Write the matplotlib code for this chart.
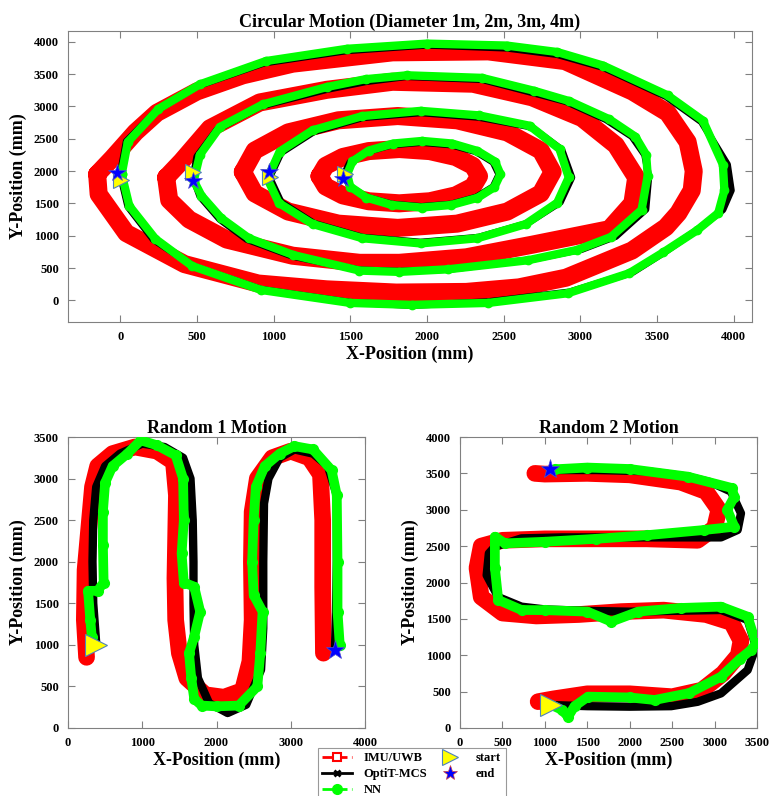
import matplotlib
matplotlib.use("Agg")
import matplotlib.pyplot as plt
from matplotlib.lines import Line2D

plt.rcParams['font.family'] = ['Liberation Serif', 'DejaVu Serif']
plt.rcParams['font.weight'] = 'bold'

# ---------------- Circular motion data (mm) ----------------
c1_opti_x = [0, 40, 240, 500, 940, 1480, 2000, 2520, 2850, 3150, 3560, 3790, 3960, 3985, 3930, 3780, 3560, 3340, 2930, 2400, 1900, 1500, 920, 480, 215, 50, 0]
c1_opti_y = [1950, 2460, 2940, 3310, 3670, 3860, 3945, 3900, 3800, 3600, 3150, 2760, 2100, 1700, 1400, 1120, 760, 430, 130, -20, -80, -30, 170, 525, 942, 1450, 1950]
c1_imu_x = [-150, -50, 100, 240, 500, 800, 1125, 1776, 2400, 2900, 3340, 3570, 3700, 3740, 3727, 3640, 3558, 3337, 2907, 2600, 2257, 1800, 1346, 900, 420, 40, -140, -150]
c1_imu_y = [1950, 2200, 2600, 2900, 3230, 3480, 3660, 3835, 3850, 3700, 3230, 2900, 2450, 2000, 1700, 1350, 1130, 770, 350, 200, 130, 120, 170, 260, 560, 1040, 1640, 1950]
c1_nn_x = [10, 50, 250, 520, 950, 1480, 2000, 2520, 2850, 3150, 3570, 3800, 3930, 3940, 3900, 3760, 3540, 3320, 2920, 2400, 1900, 1500, 920, 470, 230, 60, 10]
c1_nn_y = [1950, 2450, 2960, 3340, 3700, 3890, 3970, 3940, 3840, 3630, 3170, 2780, 2100, 1700, 1350, 1080, 740, 420, 110, -40, -70, -40, 160, 530, 950, 1460, 1950]

c2_opti_x = [475, 500, 631, 910, 1346, 1600, 1866, 2361, 2686, 2907, 3167, 3337, 3420, 3447, 3428, 3232, 3011, 2686, 2146, 1821, 1561, 1125, 826, 650, 520, 475]
c2_opti_y = [1900, 2224, 2641, 2996, 3259, 3380, 3459, 3413, 3212, 3073, 2795, 2533, 2250, 1915, 1405, 988, 788, 633, 479, 450, 470, 680, 942, 1251, 1606, 1900]
c2_imu_x = [300, 400, 585, 910, 1346, 1776, 2300, 2686, 3011, 3232, 3365, 3340, 3190, 2686, 2257, 1821, 1561, 1125, 695, 450, 320, 300]
c2_imu_y = [1900, 2150, 2660, 3060, 3255, 3380, 3350, 3140, 2820, 2400, 1900, 1500, 1100, 860, 665, 580, 580, 690, 940, 1250, 1550, 1900]
c2_nn_x = [480, 520, 650, 930, 1350, 1600, 1870, 2360, 2700, 2930, 3190, 3360, 3430, 3440, 3400, 3200, 2980, 2660, 2140, 1820, 1560, 1130, 840, 660, 530, 480]
c2_nn_y = [1850, 2250, 2680, 3030, 3300, 3420, 3480, 3440, 3240, 3080, 2800, 2530, 2250, 1930, 1400, 980, 780, 620, 480, 440, 460, 700, 960, 1270, 1620, 1850]

c3_opti_x = [975, 1050, 1263, 1583, 1960, 2337, 2680, 2880, 2945, 2870, 2657, 2337, 1960, 1583, 1263, 1050, 975]
c3_opti_y = [1900, 2283, 2607, 2824, 2900, 2830, 2680, 2330, 1900, 1517, 1193, 976, 900, 976, 1193, 1517, 1900]
c3_imu_x = [800, 877, 1096, 1423, 1810, 2197, 2524, 2743, 2820, 2743, 2524, 2197, 1810, 1423, 1096, 877, 800]
c3_imu_y = [1985, 2316, 2597, 2784, 2850, 2784, 2597, 2316, 1985, 1654, 1373, 1186, 1120, 1186, 1373, 1654, 1985]
c3_nn_x = [960, 1040, 1255, 1580, 1960, 2340, 2670, 2865, 2925, 2850, 2645, 2330, 1960, 1580, 1255, 1035, 960]
c3_nn_y = [1880, 2300, 2630, 2850, 2930, 2860, 2700, 2340, 1900, 1510, 1180, 960, 880, 960, 1180, 1505, 1880]

c4_opti_x = [1460, 1498, 1608, 1772, 1965, 2158, 2322, 2432, 2470, 2432, 2322, 2158, 1965, 1772, 1608, 1498, 1460]
c4_opti_y = [1946, 2135, 2296, 2403, 2441, 2403, 2296, 2135, 1946, 1757, 1596, 1489, 1451, 1489, 1596, 1757, 1946]
c4_imu_x = [1300, 1340, 1452, 1621, 1820, 2019, 2188, 2300, 2340, 2300, 2188, 2019, 1820, 1621, 1452, 1340, 1300]
c4_imu_y = [1920, 2080, 2217, 2308, 2340, 2308, 2217, 2080, 1920, 1760, 1623, 1532, 1500, 1532, 1623, 1760, 1920]
c4_nn_x = [1480, 1515, 1620, 1780, 1970, 2165, 2330, 2445, 2480, 2440, 2330, 2160, 1965, 1770, 1605, 1500, 1480]
c4_nn_y = [1950, 2150, 2315, 2425, 2465, 2425, 2310, 2145, 1950, 1750, 1585, 1475, 1435, 1475, 1590, 1760, 1950]

circ_start_x = [7, 475, 976, 1463]
circ_start_y = [1860, 1977, 1900, 1946]
circ_end_x = [-20, 475, 969, 1450]
circ_end_y = [1970, 1838, 1977, 1870]

# ---------------- Random 1 data (mm) ----------------
r1_opti_x = [382, 340, 330, 340, 380, 500, 700, 1000, 1300, 1550, 1650, 1680, 1690, 1690, 1700, 1750, 1900, 2150, 2400, 2600, 2630, 2630, 2640, 2700, 2850, 3050, 3300, 3500, 3620, 3620, 3610, 3595]
r1_opti_y = [998, 1500, 2000, 2500, 2900, 3150, 3300, 3420, 3380, 3250, 3000, 2500, 2000, 1500, 1000, 600, 300, 180, 280, 700, 1200, 2000, 2700, 3000, 3250, 3350, 3300, 3150, 2800, 2000, 1400, 938]
r1_imu_x = [250, 220, 230, 280, 330, 400, 600, 900, 1200, 1420, 1460, 1450, 1440, 1450, 1500, 1600, 1850, 2100, 2350, 2450, 2480, 2470, 2480, 2550, 2750, 3000, 3250, 3400, 3430, 3430, 3440]
r1_imu_y = [850, 1300, 1900, 2400, 2900, 3150, 3300, 3380, 3330, 3200, 2800, 2300, 1800, 1300, 900, 600, 400, 370, 450, 800, 1300, 2000, 2600, 3000, 3250, 3330, 3250, 3050, 2500, 1700, 900]
r1_nn_x = [320, 300, 270, 400, 480, 470, 470, 500, 600, 800, 980, 1200, 1450, 1550, 1560, 1530, 1560, 1700, 1780, 1700, 1630, 1660, 1700, 1800, 2000, 2300, 2550, 2590, 2620, 2500, 2480, 2500, 2530, 2650, 2850, 3050, 3300, 3550, 3620, 3630, 3630, 3660]
r1_nn_y = [1100, 1300, 1650, 1650, 1750, 2200, 2600, 2950, 3150, 3300, 3460, 3400, 3280, 3000, 2500, 2100, 1750, 1700, 1400, 1100, 900, 600, 350, 270, 260, 270, 500, 900, 1400, 1600, 2000, 2500, 2900, 3150, 3300, 3390, 3350, 3100, 2800, 2000, 1400, 1000]
r1_start = (382, 998)
r1_end = (3595, 938)

# ---------------- Random 2 data (mm) ----------------
r2_opti_x = [1078, 1500, 2000, 2489, 2800, 3076, 3390, 3488, 3390, 3076, 2500, 2000, 1500, 1000, 725, 450, 314, 340, 411, 725, 1200, 1800, 2400, 3076, 3272, 3311, 3194, 2950, 2685, 2200, 1600, 1078]
r2_opti_y = [316, 300, 293, 300, 360, 476, 797, 1118, 1485, 1622, 1610, 1599, 1610, 1630, 1668, 1800, 2100, 2400, 2493, 2607, 2620, 2620, 2620, 2620, 2722, 2951, 3249, 3380, 3455, 3530, 3546, 3546]
r2_imu_x = [921, 1100, 1500, 2000, 2500, 2850, 3100, 3280, 3311, 3200, 2900, 2400, 1900, 1400, 900, 500, 250, 200, 250, 500, 1000, 1600, 2200, 2800, 3000, 3050, 2900, 2600, 2000, 1500, 1000, 882]
r2_imu_y = [362, 400, 470, 470, 430, 520, 750, 1000, 1200, 1450, 1560, 1620, 1600, 1560, 1540, 1580, 1800, 2200, 2500, 2580, 2600, 2600, 2600, 2580, 2750, 3000, 3250, 3380, 3480, 3500, 3490, 3500]
r2_nn_x = [1078, 1200, 1274, 1350, 1509, 2000, 2293, 2700, 3076, 3300, 3429, 3488, 3390, 3076, 2600, 2100, 1783, 1500, 1000, 725, 451, 411, 411, 529, 1000, 1600, 2200, 2880, 3233, 3150, 3233, 3200, 2685, 2000, 1500, 1117]
r2_nn_y = [316, 250, 156, 300, 431, 420, 385, 480, 706, 950, 1072, 1164, 1530, 1668, 1650, 1600, 1462, 1600, 1620, 1622, 1760, 2200, 2630, 2538, 2560, 2600, 2650, 2722, 2767, 3000, 3180, 3300, 3455, 3560, 3580, 3556]
r2_start = (1078, 316)
r2_end = (1066, 3556)

RED = '#ff0000'
GREEN = '#00ff00'
SPINE = '#808080'

W, H = 769, 796
fig = plt.figure(figsize=(W / 100, H / 100), dpi=100)


def px_axes(l, t, r, b):
    return fig.add_axes([l / W, 1 - b / H, (r - l) / W, (b - t) / H])


def style(ax, title):
    ax.set_title(title, fontsize=13, fontweight='bold', pad=3)
    ax.set_xlabel('X-Position (mm)', fontsize=13, fontweight='bold', labelpad=2)
    ax.set_ylabel('Y-Position (mm)', fontsize=13, fontweight='bold', labelpad=5)
    ax.tick_params(direction='in', length=5, width=0.8, top=True, right=True,
                   labelsize=9, color=SPINE, pad=6.5)
    for lab in ax.get_xticklabels() + ax.get_yticklabels():
        lab.set_fontweight('bold')
    for s in ax.spines.values():
        s.set_color(SPINE)
        s.set_linewidth(0.8)


def draw(ax, ix, iy, ox, oy, nx, ny, wr, wb, wg, ms):
    ax.plot(ix, iy, color=RED, lw=wr, solid_capstyle='round', solid_joinstyle='round', zorder=2)
    ax.plot(ox, oy, color='black', lw=wb, solid_capstyle='round', solid_joinstyle='round', zorder=3)
    ax.plot(nx, ny, color=GREEN, lw=wg, marker='o', ms=ms, markeredgecolor=GREEN,
            solid_capstyle='round', solid_joinstyle='round', zorder=4)


# ---- top axes ----
ax0 = px_axes(68, 31, 752, 322)
for (ix, iy, ox, oy, nx, ny) in [
        (c1_imu_x, c1_imu_y, c1_opti_x, c1_opti_y, c1_nn_x, c1_nn_y),
        (c2_imu_x, c2_imu_y, c2_opti_x, c2_opti_y, c2_nn_x, c2_nn_y),
        (c3_imu_x, c3_imu_y, c3_opti_x, c3_opti_y, c3_nn_x, c3_nn_y),
        (c4_imu_x, c4_imu_y, c4_opti_x, c4_opti_y, c4_nn_x, c4_nn_y)]:
    draw(ax0, ix, iy, ox, oy, nx, ny, 13, 5, 6, 6)
ax0.plot(circ_start_x, circ_start_y, ls='none', marker='>', ms=11, mfc='yellow', mec='#4f81bd', mew=0.8, zorder=6)
ax0.plot(circ_end_x, circ_end_y, ls='none', marker='*', ms=13, mfc='#0000ff', mec='#4f4fd0', mew=0.5, zorder=7)
ax0.set_xlim(-340, 4120)
ax0.set_ylim(-335, 4165)
ax0.set_xticks(range(0, 4001, 500))
ax0.set_yticks(range(0, 4001, 500))
style(ax0, 'Circular Motion (Diameter 1m, 2m, 3m, 4m)')

# ---- bottom left ----
ax1 = px_axes(68, 437, 365, 728)
draw(ax1, r1_imu_x, r1_imu_y, r1_opti_x, r1_opti_y, r1_nn_x, r1_nn_y, 12, 6, 7, 7)
ax1.plot([r1_start[0]], [r1_start[1]], ls='none', marker='>', ms=16, mfc='yellow', mec='#4f81bd', mew=0.8, zorder=6)
ax1.plot([r1_end[0]], [r1_end[1]], ls='none', marker='*', ms=14, mfc='#0000ff', mec='#4f4fd0', mew=0.5, zorder=7)
ax1.set_xlim(0, 4000)
ax1.set_ylim(0, 3500)
ax1.set_xticks(range(0, 4001, 1000))
ax1.set_yticks(range(0, 3501, 500))
style(ax1, 'Random 1 Motion')

# ---- bottom right ----
ax2 = px_axes(460, 437, 757, 728)
draw(ax2, r2_imu_x, r2_imu_y, r2_opti_x, r2_opti_y, r2_nn_x, r2_nn_y, 12, 6, 7, 7)
ax2.plot([r2_start[0]], [r2_start[1]], ls='none', marker='>', ms=16, mfc='yellow', mec='#4f81bd', mew=0.8, zorder=6)
ax2.plot([r2_end[0]], [r2_end[1]], ls='none', marker='*', ms=14, mfc='#0000ff', mec='#4f4fd0', mew=0.5, zorder=7)
ax2.set_xlim(0, 3500)
ax2.set_ylim(0, 4000)
ax2.set_xticks(range(0, 3501, 500))
ax2.set_yticks(range(0, 4001, 500))
style(ax2, 'Random 2 Motion')

# ---- legend ----
handles = [
    Line2D([], [], color=RED, ls='--', lw=2, marker='s', ms=6, mfc='white', mec=RED, mew=1.5),
    Line2D([], [], color='black', ls='-', lw=2, marker='x', ms=5, mec='black', mew=2),
    Line2D([], [], color=GREEN, ls='--', lw=2, marker='o', ms=7, mfc=GREEN, mec=GREEN),
    Line2D([], [], ls='none', marker='>', ms=11, mfc='yellow', mec='#4f81bd', mew=0.8),
    Line2D([], [], ls='none', marker='*', ms=11, mfc='#0000ff', mec='#d04040', mew=0.5),
]
labels = ['IMU/UWB', 'OptiT-MCS', 'NN', 'start', 'end']
leg = fig.legend(handles, labels, loc='upper left', bbox_to_anchor=(318 / W, 1 - 748 / H),
                 ncol=2, frameon=True, fancybox=False, edgecolor='#808080',
                 prop={'family': 'Liberation Serif', 'weight': 'bold', 'size': 9},
                 handlelength=2.4, handletextpad=0.9, columnspacing=0.6,
                 borderpad=0.35, labelspacing=0.3, borderaxespad=0)
leg.get_frame().set_linewidth(0.8)

fig.savefig('out.png', dpi=100)
